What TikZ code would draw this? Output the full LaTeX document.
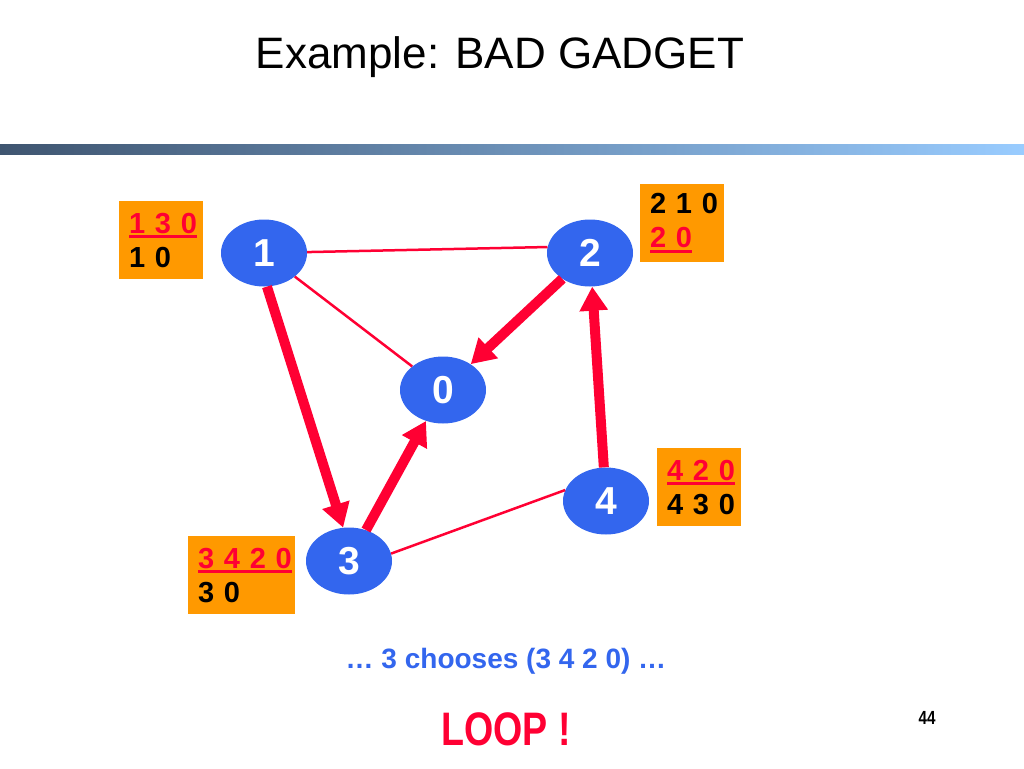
\documentclass[tikz,border=0pt]{standalone}
\usepackage{fontspec}
\setmainfont{Liberation Sans}
\newfontfamily\narrowsans[FakeStretch=0.8]{Liberation Sans}
\usepackage{tikz}
\usetikzlibrary{arrows.meta,shapes.geometric,positioning}

\definecolor{asblue}{HTML}{3366EE}
\definecolor{linkred}{HTML}{FF0033}
\definecolor{tblorange}{HTML}{FF9900}
\definecolor{bardark}{HTML}{3F5570}
\definecolor{barlight}{HTML}{99CCFF}

% chosen path: red, underlined
\newcommand{\chosen}[1]{\textcolor{linkred}{\setbox0\hbox{#1}\rlap{\rule[-5pt]{\wd0}{3pt}}\box0}}

\begin{document}
\begin{tikzpicture}[x=1pt,y=-1pt,
	as/.style={shape=ellipse,fill=asblue,minimum width=86pt,minimum height=67pt,inner sep=0pt,text=white,font=\fontsize{39}{39}\selectfont\bfseries},
	tbl/.style={fill=tblorange,anchor=north west,inner xsep=10pt,inner ysep=0pt,minimum height=78pt,align=left,font=\fontsize{29}{34}\selectfont\bfseries},
	link/.style={draw=linkred,line width=2.5pt},
	route/.style={draw=linkred,line width=10pt,-{Triangle[length=24pt,width=27pt]}}]
	\useasboundingbox (0,0) rectangle (1024,768);
	\shade[left color=bardark,right color=barlight] (0,144) rectangle (1024,154);
	\path (500,68) node (title) [anchor=base,font=\fontsize{44}{44}\selectfont] {Example: BAD GADGET};
	\path (264,253) node (1) [as] {1}
		  (590,253) node (2) [as] {2}
		  (443,390) node (0) [as] {0}
		  (606,501) node (4) [as] {4}
		  (349,561) node (3) [as] {3};
	\path (119,201) node (t1) [tbl,text width=64pt] {\chosen{1~3~0}\\1~0}
		  (640,184) node (t2) [tbl,text width=64pt] {2~1~0\\\chosen{2~0}}
		  (657,448) node (t4) [tbl,text width=64pt] {\chosen{4~2~0}\\4~3~0}
		  (188,536) node (t3) [tbl,text width=87pt] {\chosen{3~4~2~0}\\3~0};
	\draw[link] (1) -- (2.172);
	\draw[link] (1) -- (0);
	\draw[link] (3.10) -- (4.165);
	\draw[route] (1.275) -- (3.100);
	\draw[route] (3) -- (0);
	\draw[route] (2) -- (0);
	\draw[route] (4) -- (2);
	\path (506,668) node (choice) [anchor=base,text=asblue,font=\fontsize{28}{28}\selectfont\bfseries] {… 3 chooses (3 4 2 0) …}
		  (506,745) node (loop) [anchor=base,text=linkred,font=\fontsize{47}{47}\narrowsans\bfseries] {LOOP !}
		  (927,724) node (page) [anchor=base,font=\fontsize{19}{19}\narrowsans\bfseries] {44};
\end{tikzpicture}
\end{document}
